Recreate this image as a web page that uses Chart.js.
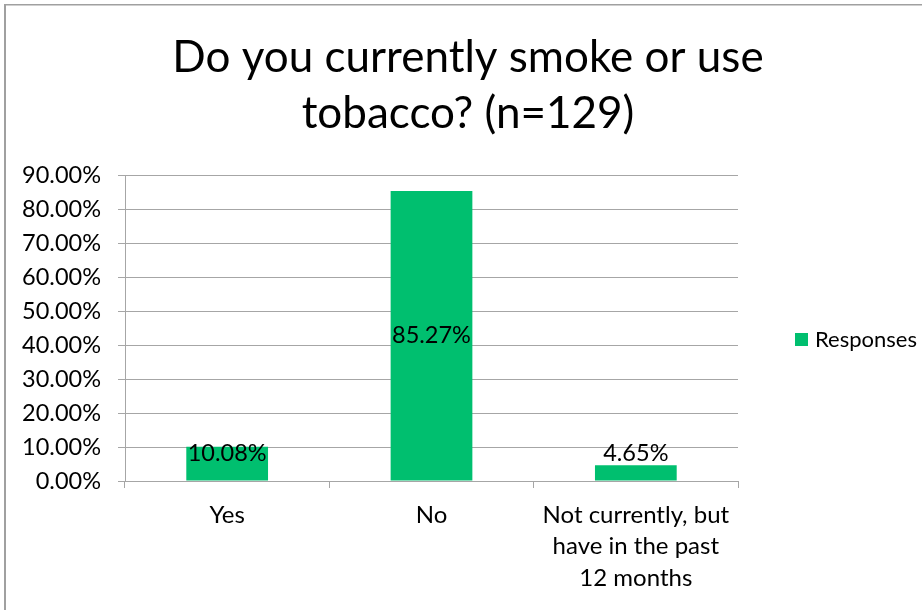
<!DOCTYPE html>
<html>
<head>
<meta charset="utf-8">
<title>Do you currently smoke or use tobacco? (n=129)</title>
<script src="https://cdn.jsdelivr.net/npm/chart.js@4/dist/chart.umd.min.js"></script>
<style>
  html, body { margin: 0; padding: 0; background: #ffffff; }
  #wrap { position: relative; width: 922px; height: 610px; }
</style>
</head>
<body>
<div id="wrap"><canvas id="chart" width="922" height="610"></canvas></div>
<script>
// Survey answers and their share of respondents (%)
const categories = ['Yes', 'No', ['Not currently, but', 'have in the past', '12 months']];
const responses = [10.08, 85.27, 4.65];
const seriesName = 'Responses';
const titleLines = ['Do you currently smoke or use', 'tobacco? (n=129)'];
const yMin = 0, yMax = 90, yStep = 10;

const FONT = 'Lato, "Open Sans", sans-serif';
const GREEN = '#00BF6F';
const GRID = '#a6a6a6';

// Frame, title, legend and value labels drawn on the chart canvas
const decorations = {
  id: 'decorations',
  beforeDraw(chart) {
    const ctx = chart.ctx;
    ctx.save();
    ctx.fillStyle = '#ffffff';
    ctx.fillRect(0, 0, chart.width, chart.height);
    ctx.fillStyle = '#a0a0a0';
    ctx.fillRect(4, 4, chart.width - 4, 1.5);
    ctx.fillRect(4, 4, 2, chart.height - 4);
    ctx.restore();
  },
  afterDraw(chart) {
    const ctx = chart.ctx;
    ctx.save();
    // title
    ctx.fillStyle = '#000000';
    ctx.font = '44px ' + FONT;
    ctx.textAlign = 'center';
    ctx.textBaseline = 'alphabetic';
    titleLines.forEach((line, i) => ctx.fillText(line, 468, 72 + i * 56));

    // legend
    const ds = chart.data.datasets[0];
    ctx.fillStyle = ds.backgroundColor;
    ctx.fillRect(795, 333, 13, 13);
    ctx.fillStyle = '#000000';
    ctx.font = '22px ' + FONT;
    ctx.textAlign = 'left';
    ctx.textBaseline = 'middle';
    ctx.fillText(ds.label, 815, 340);

    // value labels
    const meta = chart.getDatasetMeta(0);
    ctx.font = '23.5px ' + FONT;
    ctx.textAlign = 'center';
    meta.data.forEach((bar, i) => {
      const v = ds.data[i];
      const mid = (bar.y + bar.base) / 2;
      const y = Math.min(mid, bar.base - 27);
      ctx.fillText(v.toFixed(2) + '%', bar.x, y);
    });
    ctx.restore();
  }
};

new Chart(document.getElementById('chart'), {
  type: 'bar',
  data: {
    labels: categories,
    datasets: [{
      label: seriesName,
      data: responses,
      backgroundColor: GREEN,
      borderWidth: 0,
      categoryPercentage: 1.0,
      barPercentage: 0.4
    }]
  },
  options: {
    responsive: false,
    animation: false,
    devicePixelRatio: 1,
    layout: { padding: { top: 175, right: 184, left: 0, bottom: 0 } },
    plugins: {
      legend: { display: false },
      title: { display: false },
      tooltip: { enabled: false }
    },
    scales: {
      x: {
        offset: true,
        afterFit(scale) { scale.height = 129; },
        grid: { drawOnChartArea: false, drawTicks: true, tickLength: 7, color: GRID, offset: true },
        border: { display: true, color: GRID, width: 1 },
        ticks: {
          color: '#000000',
          padding: 11,
          maxRotation: 0,
          autoSkip: false,
          font: { family: FONT, size: 24, lineHeight: 1.32 }
        }
      },
      y: {
        min: yMin,
        max: yMax,
        afterFit(scale) { scale.width = 125; },
        grid: { color: GRID, tickLength: 7, drawTicks: true },
        border: { display: true, color: GRID, width: 1 },
        ticks: {
          stepSize: yStep,
          color: '#000000',
          padding: 17,
          font: { family: FONT, size: 23.5 },
          callback: v => Number(v).toFixed(2) + '%'
        }
      }
    }
  },
  plugins: [decorations]
});
</script>
</body>
</html>
